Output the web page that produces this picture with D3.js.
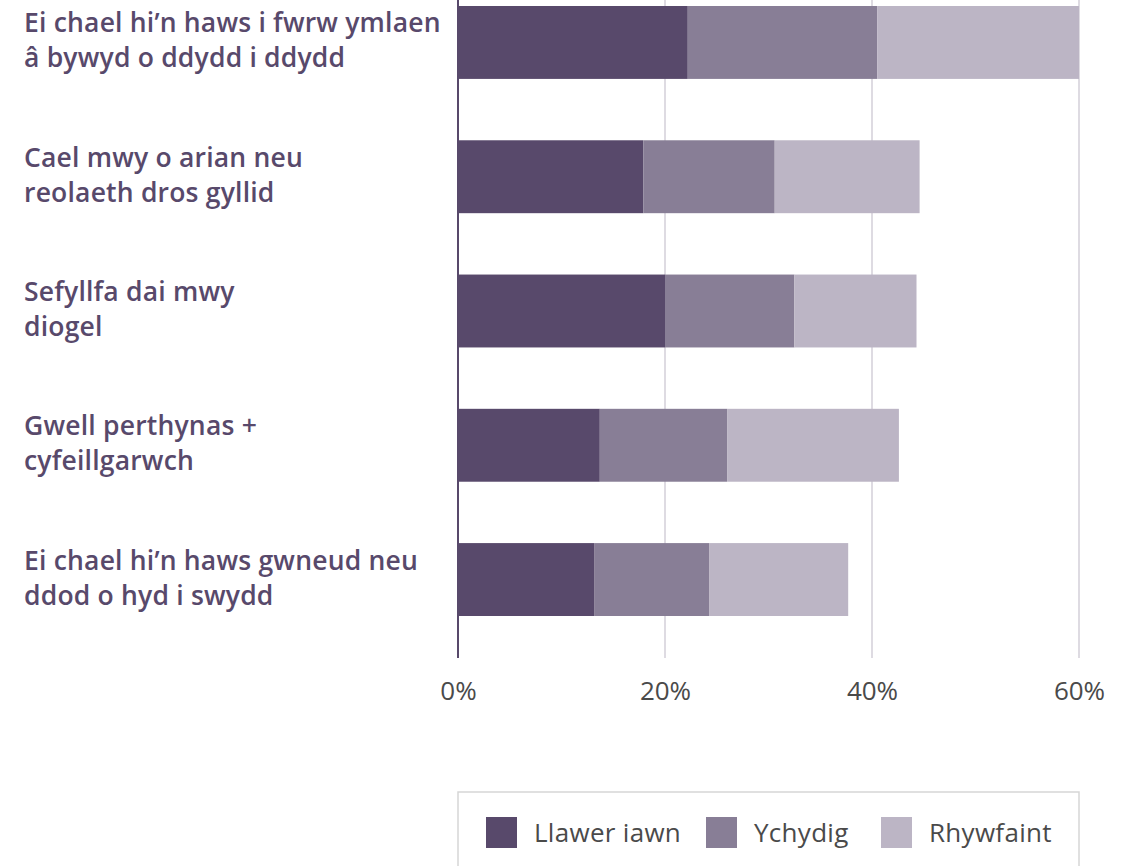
<!DOCTYPE html>
<html>
<head>
<meta charset="utf-8">
<script src="https://cdn.jsdelivr.net/npm/d3@7"></script>
<style>
  body { margin: 0; background: #fff; }
  svg { display: block; font-family: "Open Sans", sans-serif; }
</style>
</head>
<body>
<script>
var categories = [
  ["Ei chael hi\u2019n haws i fwrw ymlaen", "\u00e2 bywyd o ddydd i ddydd"],
  ["Cael mwy o arian neu", "reolaeth dros gyllid"],
  ["Sefyllfa dai mwy", "diogel"],
  ["Gwell perthynas +", "cyfeillgarwch"],
  ["Ei chael hi\u2019n haws gwneud neu", "ddod o hyd i swydd"]
];
var seriesNames = ["Llawer iawn", "Ychydig", "Rhywfaint"];
var llawerIawn = [22.2, 17.9, 20.0, 13.7, 13.2];
var ychydig = [18.3, 12.7, 12.5, 12.3, 11.1];
var rhywfaint = [19.5, 14.0, 11.8, 16.6, 13.4];
var tickValues = [0, 20, 40, 60];

var colors = ["#58496b", "#887e96", "#bcb5c5"];

var svgWidth = 1123, svgHeight = 866;
var svg = d3.select("body").append("svg").attr("width", svgWidth).attr("height", svgHeight);

var rows = categories.map(function(c, i) {
  return { key: i, label: c, s0: llawerIawn[i], s1: ychydig[i], s2: rhywfaint[i] };
});

var stack = d3.stack().keys(["s0", "s1", "s2"])(rows);

var x = d3.scaleLinear().domain([0, 60]).range([458, 1079]);
var y = d3.scaleBand().domain(d3.range(categories.length)).range([6, 616]).paddingInner(0.457).paddingOuter(0);

// gridlines
svg.append("g").selectAll("line").data(tickValues.slice(1)).enter().append("line")
  .attr("x1", d => x(d)).attr("x2", d => x(d))
  .attr("y1", 0).attr("y2", 658)
  .attr("stroke", "#d3cfd9").attr("stroke-width", 1.5);

// bars
svg.append("g").selectAll("g").data(stack).enter().append("g")
  .attr("fill", (d, i) => colors[i])
  .selectAll("rect").data(d => d).enter().append("rect")
  .attr("x", d => x(d[0]))
  .attr("width", d => x(d[1]) - x(d[0]))
  .attr("y", (d, i) => y(i))
  .attr("height", y.bandwidth());

// axis line
svg.append("line").attr("x1", x(0)).attr("x2", x(0)).attr("y1", 0).attr("y2", 658)
  .attr("stroke", "#58496b").attr("stroke-width", 2);

// x tick labels
var xAxis = d3.axisBottom(x).tickValues(tickValues).tickSize(0).tickFormat(d => d + "%");
var gx = svg.append("g").attr("transform", "translate(0,679)").call(xAxis);
gx.select(".domain").remove();
gx.selectAll("text").attr("fill", "#4a4a4a").attr("font-size", 26)
  .attr("font-family", "Open Sans, sans-serif");

// category labels
var labels = svg.append("g").selectAll("text").data(categories).enter().append("text")
  .attr("x", 24)
  .attr("y", (d, i) => y(i) + y.bandwidth() / 2 - 10)
  .attr("fill", "#58496b")
  .attr("font-size", 26.5)
  .attr("letter-spacing", 0.2)
  .attr("font-weight", 600);
labels.selectAll("tspan").data(d => d).enter().append("tspan")
  .attr("x", 24)
  .attr("dy", (d, j) => j === 0 ? 0 : 35)
  .text(d => d);

// legend
var legend = svg.append("g");
legend.append("rect").attr("x", 458).attr("y", 792).attr("width", 621).attr("height", 90)
  .attr("fill", "none").attr("stroke", "#d6d6d6").attr("stroke-width", 1.5);
var legendX = [486, 706, 881];
var items = legend.selectAll("g.item").data(seriesNames).enter().append("g").attr("class", "item")
  .attr("transform", (d, i) => "translate(" + legendX[i] + ",817)");
items.append("rect").attr("width", 31).attr("height", 31).attr("fill", (d, i) => colors[i]);
items.append("text").attr("x", 48).attr("y", 16).attr("dy", "0.35em")
  .attr("font-size", 26).attr("letter-spacing", 0.3).attr("fill", "#4a4a4a").text(d => d);
</script>
</body>
</html>
